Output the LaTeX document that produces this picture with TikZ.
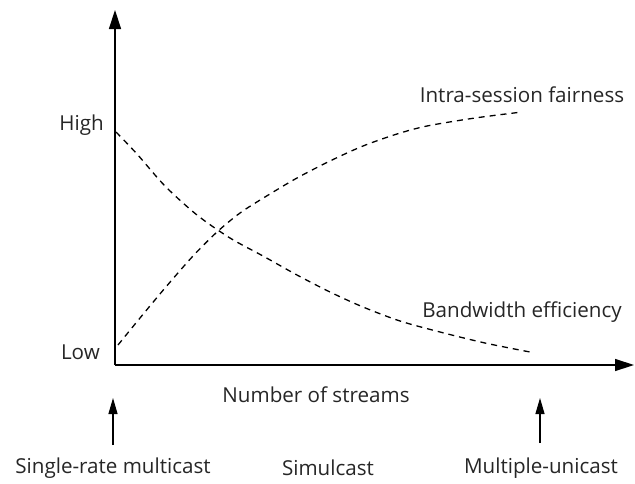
\documentclass[tikz,border=0pt]{standalone}
\usepackage{fontspec}
\setmainfont{Open Sans}
\usetikzlibrary{arrows.meta}
\begin{document}
\begin{tikzpicture}[x=1pt,y=-1pt,
  axis/.style={line width=1.4pt,-{Triangle[length=19pt,width=12pt]}},
  pointer/.style={line width=1.2pt,-{Triangle[length=16pt,width=9pt]}},
  trend/.style={line width=1.3pt,dash pattern=on 6pt off 5pt},
  lbl/.style={inner sep=0pt,text=black!85,font=\fontsize{20.6}{23}\selectfont}]
\useasboundingbox (0,0) rectangle (635,483);

% axes
\coordinate (O) at (115,365);
\coordinate (ytip) at (115,10);
\coordinate (xtip) at (634,365);
\draw[axis] (O) -- (ytip);
\draw[axis] (O) -- (xtip);

% level labels
\node[lbl,anchor=east] (high) at (104,125) {High};
\node[lbl,anchor=east] (low) at (100,352) {Low};

% bandwidth efficiency falls with the number of streams
\draw[trend] plot[smooth] coordinates {(116,132) (137,154) (165,186) (197,215)
  (230,238) (263,256) (297,275) (330,292) (363,307) (400,321) (440,332)
  (485,343) (530,352)};
% intra-session fairness rises with the number of streams
\draw[trend] plot[smooth] coordinates {(118,345) (140,318) (165,288) (193,256)
  (217,232) (240,213) (265,197) (297,178) (330,161) (363,146) (397,134)
  (427,126) (475,118) (522,112)};

\node[lbl] (fair) at (522,95) {Intra-session fairness};
\node[lbl] (bw) at (522,312) {Bandwidth efficiency};

% horizontal axis caption and scheme markers
\node[lbl] (streams) at (316,395) {Number of streams};
\coordinate (s0) at (113,445);
\coordinate (s1) at (113,398);
\coordinate (m0) at (540,443);
\coordinate (m1) at (540,398);
\draw[pointer] (s0) -- (s1);
\draw[pointer] (m0) -- (m1);
\node[lbl] (single) at (113,468) {Single-rate multicast};
\node[lbl] (simul) at (328,468) {Simulcast};
\node[lbl] (multi) at (541,468) {Multiple-unicast};
\end{tikzpicture}
\end{document}
